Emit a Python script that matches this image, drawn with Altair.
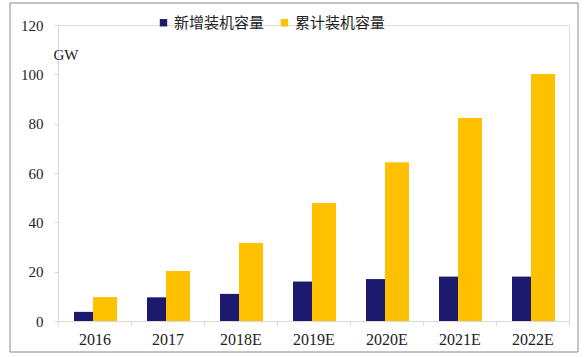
import altair as alt
import pandas as pd

years = ["2016", "2017", "2018E", "2019E", "2020E", "2021E", "2022E"]
new_cap = [3.7, 9.6, 11.0, 16.0, 17.0, 18.0, 18.0]
cum_cap = [9.7, 20.3, 31.6, 47.8, 64.4, 82.3, 100.1]
series = ["新增装机容量", "累计装机容量"]
colors = ["#1c1a6e", "#ffc000"]
y_ticks = [0, 20, 40, 60, 80, 100, 120]

df_new = pd.DataFrame({"year": years, "value": new_cap, "series": series[0]})
df_cum = pd.DataFrame({"year": years, "value": cum_cap, "series": series[1]})

serif = "Liberation Serif"
cjk = "Noto Sans CJK SC"

x_enc = alt.X("year:N", sort=years,
              scale=alt.Scale(paddingInner=0, paddingOuter=0),
              axis=alt.Axis(title=None, labelAngle=0, labelFont=serif, labelFontSize=16,
                            labelColor="#222", labelPadding=6, domainColor="#d9d9d9",
                            tickColor="#d9d9d9", tickSize=4, tickBand="extent"))
y_enc = alt.Y("value:Q",
              scale=alt.Scale(domain=[0, 120], nice=False),
              axis=alt.Axis(values=y_ticks, grid=False, title="GW", titleAngle=0,
                            titleX=-5, titleY=29, titleAlign="left", titleBaseline="middle",
                            titleFont=serif, titleFontSize=15, titleFontWeight="normal",
                            titleColor="#222",
                            labelFont=serif, labelFontSize=15, labelColor="#222",
                            labelPadding=11, domainColor="#d9d9d9", tickColor="#d9d9d9",
                            tickSize=4))
color_enc = alt.Color("series:N",
                      scale=alt.Scale(domain=series, range=colors),
                      legend=alt.Legend(title=None, orient="none", direction="horizontal",
                                        legendX=98, legendY=-10, symbolType="square",
                                        symbolSize=55, symbolStrokeWidth=0,
                                        labelFont=cjk, labelFontSize=15, labelColor="#222",
                                        labelOffset=3, columnPadding=12, padding=0))

bars_new = alt.Chart(df_new).mark_bar(width=19, xOffset=-11).encode(
    x=x_enc, y=y_enc, color=color_enc)
bars_cum = alt.Chart(df_cum).mark_bar(width=24, xOffset=10.5).encode(
    x=x_enc, y=y_enc, color=color_enc)

frame = alt.Chart(pd.DataFrame({"f": [0]})).mark_rect(
    fill=None, stroke="#888888", strokeWidth=1).encode(
    x=alt.value(-48), x2=alt.value(520), y=alt.value(-22), y2=alt.value(327))

chart = alt.layer(bars_new, bars_cum, frame).properties(
    width=511, height=296,
    autosize=alt.AutoSizeParams(type="none"),
    padding={"left": 58, "top": 25, "right": 18, "bottom": 36},
).configure_view(stroke=None).configure(background="white")

chart.save("out.html", embed_options={"renderer": "svg", "actions": False})
